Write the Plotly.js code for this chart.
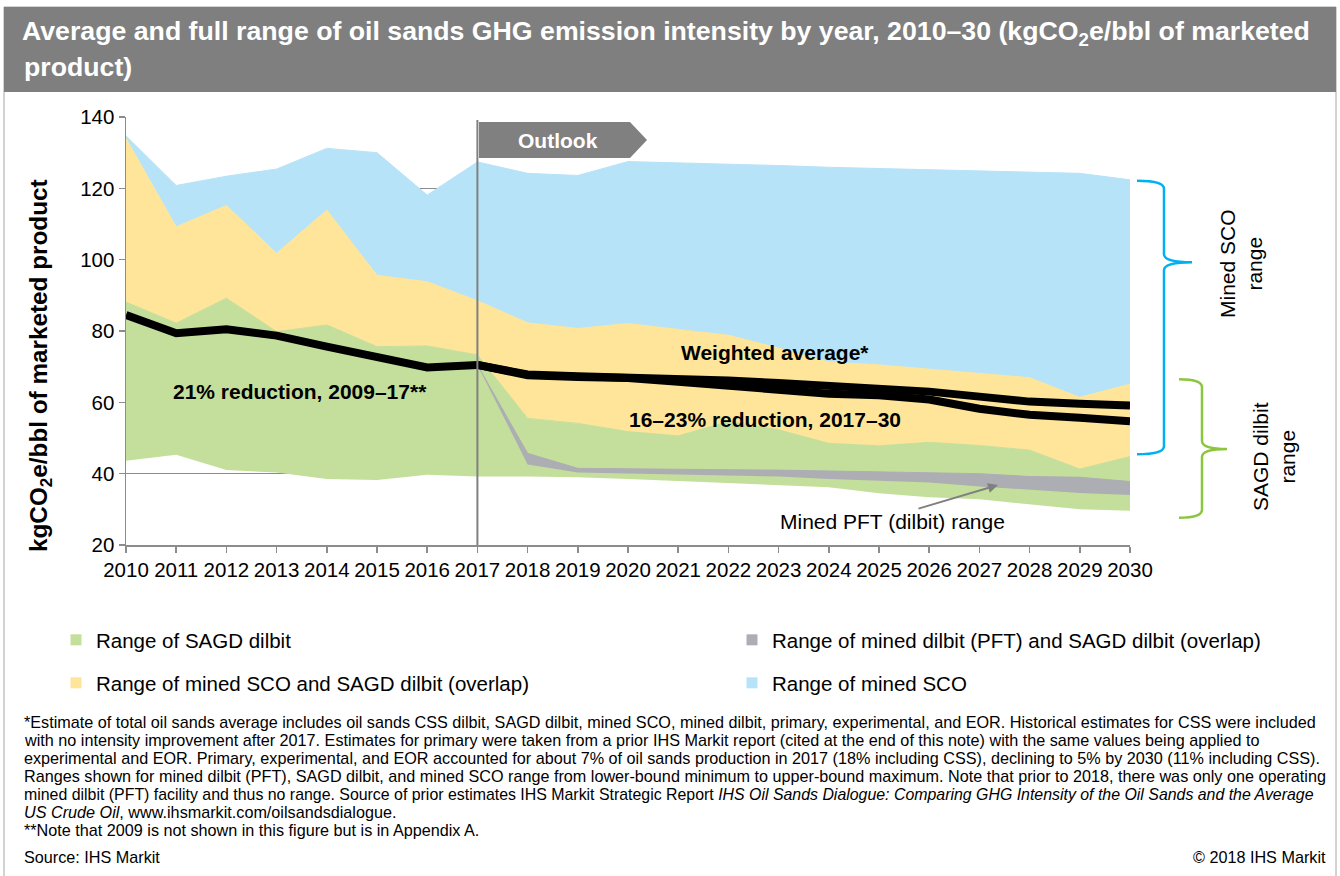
<!DOCTYPE html>
<html>
<head>
<meta charset="utf-8">
<script src="https://cdn.plot.ly/plotly-3.0.1.min.js"></script>
<style>
html,body{margin:0;padding:0;background:#fff;}
#chart{width:1340px;height:876px;}
</style>
</head>
<body>
<div id="chart"></div>
<script>
// ---------------- DATA ----------------
const years = [2010,2011,2012,2013,2014,2015,2016,2017,2018,2019,2020,2021,2022,2023,2024,2025,2026,2027,2028,2029,2030];
// Upper bound of mined SCO range
const scoMax = [134.7,120.8,123.4,125.4,131.2,130.0,118.1,127.4,124.2,123.6,127.5,127.2,126.9,126.4,125.9,125.6,125.3,125.0,124.7,124.2,122.4];
// Lower bound of mined SCO range
const scoMin = [88.1,82.2,89.2,79.8,81.7,75.6,75.8,73.3,55.5,54.1,51.8,50.6,54.6,52.3,48.5,47.8,48.8,47.9,46.6,41.3,44.8];
// Upper bound of SAGD dilbit range
const sagdMax = [134.0,109.2,115.2,101.8,113.9,95.6,93.8,88.5,82.3,80.7,82.1,80.5,78.8,75.2,71.3,70.5,69.3,68.1,66.9,61.4,65.1];
// Lower bound of SAGD dilbit range
const sagdMin = [43.6,45.3,41.0,40.3,38.5,38.2,39.7,39.2,39.2,39.0,38.5,37.9,37.4,36.8,36.2,34.5,33.4,32.8,31.5,30.0,29.6];

const pftYears = [2017,2018,2019,2020,2021,2022,2023,2024,2025,2026,2027,2028,2029,2030];
const pftMax = [70.5,45.7,41.5,41.3,41.2,41.1,41.0,40.8,40.6,40.3,40.0,39.2,39.0,37.8];
const pftMin = [70.5,42.6,40.3,40.0,39.7,39.5,39.2,38.5,38.0,37.5,36.4,35.5,34.6,34.0];

const histYears = [2010,2011,2012,2013,2014,2015,2016,2017];
const avgHist = [84.5,79.4,80.5,78.7,75.6,72.6,69.8,70.5];
const outYears = [2017,2018,2019,2020,2021,2022,2023,2024,2025,2026,2027,2028,2029,2030];
const avgHigh = [70.5,67.8,67.3,67.0,66.8,66.1,65.4,64.7,63.7,63.0,61.6,60.2,59.6,59.1];
const avgLow  = [70.5,67.6,67.1,66.8,65.8,64.6,63.6,62.4,62.0,60.8,58.2,56.5,55.7,54.7];

const legendNames = [
  "Range of SAGD dilbit",
  "Range of mined dilbit (PFT) and SAGD dilbit (overlap)",
  "Range of mined SCO and SAGD dilbit (overlap)",
  "Range of mined SCO"
];
const xTickVals = years;
const yTickVals = [20,40,60,80,100,120,140];

// ---------------- STYLE ----------------
const FONT = "Liberation Sans, Arial, Helvetica, sans-serif";
const C_GREEN = "#c4df9b";
const C_YELLOW = "#fee599";
const C_BLUE = "#b7e3f8";
const C_GREY = "#adaeb3";
const C_AX = "#8c8c8c";

// plot area in pixels
const L = 126, R = 1130, T = 117, B = 545, W = 1340, H = 876;
const px = x => (x - L) / (R - L);
const py = y => (B - y) / (B - T);

const traces = [];
// green band: SAGD min -> SCO min
traces.push({x: years, y: sagdMin, mode: "lines", line: {width: 0, color: C_GREEN}, showlegend: false, hoverinfo: "skip"});
traces.push({x: years, y: scoMin, mode: "lines", fill: "tonexty", fillcolor: C_GREEN, line: {width: 1, color: C_GREEN}, showlegend: false, hoverinfo: "skip"});
// yellow band: SCO min -> SAGD max
traces.push({x: years, y: sagdMax, mode: "lines", fill: "tonexty", fillcolor: C_YELLOW, line: {width: 1, color: C_YELLOW}, showlegend: false, hoverinfo: "skip"});
// blue band: SAGD max -> SCO max
traces.push({x: years, y: scoMax, mode: "lines", fill: "tonexty", fillcolor: C_BLUE, line: {width: 1, color: C_BLUE}, showlegend: false, hoverinfo: "skip"});
// grey band: PFT range
traces.push({x: pftYears, y: pftMin, mode: "lines", line: {width: 0, color: C_GREY}, showlegend: false, hoverinfo: "skip"});
traces.push({x: pftYears, y: pftMax, mode: "lines", fill: "tonexty", fillcolor: C_GREY, line: {width: 1, color: C_GREY}, showlegend: false, hoverinfo: "skip"});
// weighted average lines
traces.push({x: histYears, y: avgHist, mode: "lines", line: {width: 8, color: "#000"}, showlegend: false});
traces.push({x: outYears, y: avgHigh, mode: "lines", line: {width: 8, color: "#000"}, showlegend: false});
traces.push({x: outYears, y: avgLow, mode: "lines", line: {width: 8, color: "#000"}, showlegend: false});

// legend entries (one small legend per entry for exact placement)
const legColors = [C_GREEN, C_GREY, C_YELLOW, C_BLUE];
const legIds = ["legend", "legend2", "legend3", "legend4"];
legendNames.forEach((n, i) => {
  traces.push({x: [null], y: [null], mode: "markers", name: n, legend: legIds[i],
    marker: {symbol: "square", size: 11, color: legColors[i]}, showlegend: true});
});
// legend positions: [text-left x, centre y] in pixels
const legPos = [[96, 640], [772, 640], [96, 683], [772, 683]];

// curly brace path in paper coords
function brace(x0, xv, xt, yTop, yTip, yBot) {
  const r = 8;
  const P = (x, y) => px(x).toFixed(5) + "," + py(y).toFixed(5);
  return "M" + P(x0, yTop) + " Q" + P(xv, yTop) + " " + P(xv, yTop + r) +
    " L" + P(xv, yTip - r) + " Q" + P(xv, yTip) + " " + P(xt, yTip) +
    " Q" + P(xv, yTip) + " " + P(xv, yTip + r) +
    " L" + P(xv, yBot - r) + " Q" + P(xv, yBot) + " " + P(x0, yBot);
}

const shapes = [
  // outer frame
  {type: "rect", xref: "paper", yref: "paper", x0: px(4), x1: px(1336), y0: py(7), y1: py(880), line: {color: "#a6a6a6", width: 1}, layer: "below"},
  // title bar
  {type: "rect", xref: "paper", yref: "paper", x0: px(4), x1: px(1336), y0: py(7), y1: py(92), fillcolor: "#7f7f7f", line: {width: 0}},
  // 2017 divider
  {type: "line", xref: "x", yref: "paper", x0: 2017, x1: 2017, y0: 0, y1: py(120), line: {color: "#808080", width: 2}},
  // Outlook flag
  {type: "path", xref: "paper", yref: "paper",
   path: "M" + px(479) + "," + py(122) + " L" + px(630) + "," + py(122) + " L" + px(647) + "," + py(140) +
         " L" + px(630) + "," + py(158) + " L" + px(479) + "," + py(158) + " Z",
   fillcolor: "#808080", line: {width: 0}},
  // braces
  {type: "path", xref: "paper", yref: "paper", path: brace(1137, 1164, 1192, 180.7, 262.3, 454.3), line: {color: "#00b0f0", width: 2.5}},
  {type: "path", xref: "paper", yref: "paper", path: brace(1179, 1202, 1227, 379.3, 449, 517.7), line: {color: "#8cc63f", width: 2.5}}
];

const footLines = [
  "*Estimate of total oil sands average includes oil sands CSS dilbit, SAGD dilbit, mined SCO, mined dilbit, primary, experimental, and EOR. Historical estimates for CSS were included",
  "with no intensity improvement after 2017. Estimates for primary were taken from a prior IHS Markit report (cited at the end of this note) with the same values being applied to",
  "experimental and EOR. Primary, experimental, and EOR accounted for about 7% of oil sands production in 2017 (18% including CSS), declining to 5% by 2030 (11% including CSS).",
  "Ranges shown for mined dilbit (PFT), SAGD dilbit, and mined SCO range from lower-bound minimum to upper-bound maximum. Note that prior to 2018, there was only one operating",
  "mined dilbit (PFT) facility and thus no range. Source of prior estimates IHS Markit Strategic Report <i>IHS Oil Sands Dialogue: Comparing GHG Intensity of the Oil Sands and the Average</i>",
  "<i>US Crude Oil</i>, www.ihsmarkit.com/oilsandsdialogue.",
  "**Note that 2009 is not shown in this figure but is in Appendix A."
];
const footY = [722, 740, 758, 776, 794, 812, 830];
const footSize = [16.2, 16.2, 16.2, 16.2, 15.9, 16.2, 16.2];
const FOOT = 16.2;

const annotations = [
  {xref: "paper", yref: "paper", x: px(22), y: py(67), xanchor: "left", yanchor: "middle", showarrow: false,
   text: "product)", font: {family: FONT, size: 26.7, color: "#fff", weight: "bold"}},
  {xref: "paper", yref: "paper", x: px(40), y: py(366), xanchor: "center", yanchor: "middle", showarrow: false, textangle: -90,
   text: "<b>kgCO<sub>2</sub>e/bbl of marketed product</b>", font: {family: FONT, size: 24.3, color: "#000"}},
  {xref: "paper", yref: "paper", x: px(558), y: py(140), xanchor: "center", yanchor: "middle", showarrow: false,
   text: "<b>Outlook</b>", font: {family: FONT, size: 21, color: "#fff"}},
  {xref: "x", yref: "y", x: 2013.47, y: 63.0, showarrow: false, text: "<b>21% reduction, 2009–17**</b>", font: {family: FONT, size: 21, color: "#000"}},
  {xref: "x", yref: "y", x: 2022.93, y: 74.1, showarrow: false, text: "<b>Weighted average*</b>", font: {family: FONT, size: 21, color: "#000"}},
  {xref: "x", yref: "y", x: 2022.73, y: 55.3, showarrow: false, text: "<b>16–23% reduction, 2017–30</b>", font: {family: FONT, size: 21, color: "#000"}},
  {xref: "x", yref: "y", x: 2025.26, y: 26.5, showarrow: false, text: "Mined PFT (dilbit) range", font: {family: FONT, size: 21, color: "#000"}},
  {xref: "x", yref: "y", x: 2027.37, y: 36.8, ax: -81, ay: 24, showarrow: true, arrowhead: 2, arrowsize: 1, arrowwidth: 2, arrowcolor: "#808080", text: ""},
  {xref: "paper", yref: "paper", x: px(1241), y: py(264), xanchor: "center", yanchor: "middle", showarrow: false, textangle: -90,
   text: "Mined SCO<br>range", font: {family: FONT, size: 21, color: "#000"}},
  {xref: "paper", yref: "paper", x: px(1274), y: py(457), xanchor: "center", yanchor: "middle", showarrow: false, textangle: -90,
   text: "SAGD dilbit<br>range", font: {family: FONT, size: 21, color: "#000"}},
  {xref: "paper", yref: "paper", x: px(22), y: py(857), xanchor: "left", yanchor: "middle", showarrow: false,
   text: "Source: IHS Markit", font: {family: FONT, size: FOOT, color: "#000"}},
  {xref: "paper", yref: "paper", x: px(1328), y: py(857), xanchor: "right", yanchor: "middle", showarrow: false,
   text: "© 2018 IHS Markit", font: {family: FONT, size: FOOT, color: "#000"}}
];
footLines.forEach((t, i) => {
  annotations.push({xref: "paper", yref: "paper", x: px(22), y: py(footY[i]), xanchor: "left", yanchor: "middle", showarrow: false,
    text: t, align: "left", font: {family: FONT, size: footSize[i], color: "#000"}});
});

const layout = {
  width: W, height: H,
  margin: {l: L, r: W - R, t: T, b: H - B, pad: 0},
  paper_bgcolor: "#fff", plot_bgcolor: "rgba(0,0,0,0)",
  font: {family: FONT, color: "#000"},
  title: {text: "Average and full range of oil sands GHG emission intensity by year, 2010–30 (kgCO<sub>2</sub>e/bbl of marketed",
          xref: "container", x: 22 / W, xanchor: "left", yref: "container", y: 1 - 31 / H, yanchor: "middle",
          font: {family: FONT, size: 26.7, color: "#fff", weight: "bold"}},
  xaxis: {range: [2010, 2030], tickvals: xTickVals, ticktext: xTickVals.map(String), showgrid: false, zeroline: false,
          showline: true, linecolor: C_AX, linewidth: 1.5, ticks: "outside", ticklen: 6, tickcolor: C_AX, tickwidth: 1.5,
          tickfont: {family: FONT, size: 20.5, color: "#000"}, fixedrange: true},
  yaxis: {range: [20, 140], tickvals: yTickVals, showgrid: true, gridcolor: C_AX, gridwidth: 1.5, zeroline: false,
          showline: true, linecolor: C_AX, linewidth: 1.5, ticks: "outside", ticklen: 6, tickcolor: C_AX, tickwidth: 1.5,
          tickfont: {family: FONT, size: 20.5, color: "#000"}, fixedrange: true},
  shapes: shapes,
  annotations: annotations,
  hovermode: false
};
legIds.forEach((id, i) => {
  layout[id] = {orientation: "h", x: px(legPos[i][0] - 40), xanchor: "left", y: py(legPos[i][1]), yanchor: "middle",
    font: {family: FONT, size: 20.5, color: "#000"}, bgcolor: "rgba(0,0,0,0)", borderwidth: 0, itemclick: false};
});

Plotly.newPlot("chart", traces, layout, {displayModeBar: false, staticPlot: true});
</script>
</body>
</html>
